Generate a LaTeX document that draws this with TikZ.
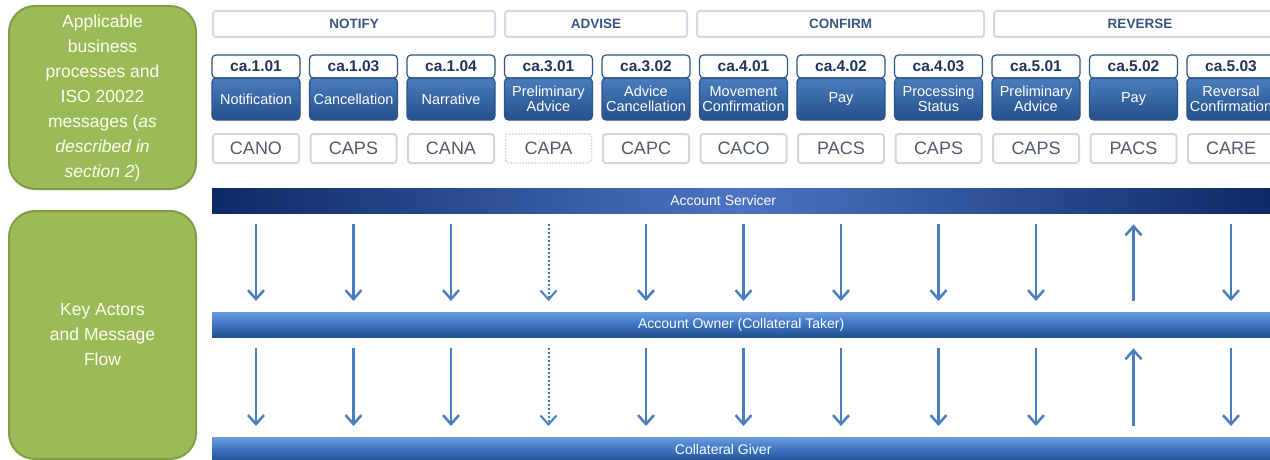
\documentclass[tikz,border=0pt]{standalone}
\usepackage{fontspec}
\setmainfont{Liberation Sans}
\usepackage{xcolor}
\usepackage{tikz}
\usetikzlibrary{positioning,arrows.meta}
\definecolor{leaf}{HTML}{9BBB59}
\definecolor{leafdark}{HTML}{7F9E45}
\definecolor{framegray}{HTML}{D3DAE4}
\definecolor{phasetext}{HTML}{3A5580}
\definecolor{navy}{HTML}{1F3560}
\definecolor{msgblue}{HTML}{4A7CBD}
\definecolor{msgdark}{HTML}{24508C}
\definecolor{msgline}{HTML}{2C5485}
\definecolor{isotext}{HTML}{505C6C}
\definecolor{isoline}{HTML}{D2D6DC}
\definecolor{flowblue}{HTML}{4A7EC2}
\definecolor{barnavy}{HTML}{0C2A66}
\definecolor{barmid}{HTML}{4C74C2}
\definecolor{bartop}{HTML}{6A9BE0}
\definecolor{barblue}{HTML}{3A72C0}
\definecolor{barlow}{HTML}{22508F}

\begin{document}
\begin{tikzpicture}[x=1pt, y=-1pt, node distance=9.5pt,
        area/.style={draw=leafdark, line width=2pt, fill=leaf, rounded corners=26pt, text=white!94!yellow, align=center, inner sep=0pt, minimum width=187pt, anchor=north west, font=\fontsize{17.5}{25}\selectfont},
        phase/.style={draw=framegray, line width=2pt, fill=white, rounded corners=3pt, minimum height=26pt, inner sep=0pt, anchor=north west, text=phasetext, font=\fontsize{13.5}{15}\selectfont\bfseries},
        code/.style={draw=msgline, line width=1.2pt, fill=white, rounded corners=4pt, minimum width=88pt, minimum height=23pt, inner sep=0pt, outer sep=0pt, text=navy, font=\fontsize{15.5}{17}\selectfont\bfseries},
        msg/.style={draw=msgline, line width=1.2pt, top color=msgblue, bottom color=msgdark, rounded corners=4pt, minimum width=88pt, minimum height=42pt, inner sep=0pt, outer sep=0pt, align=center, text=white, font=\fontsize{14.5}{15}\selectfont},
        iso/.style={draw=isoline, line width=2pt, fill=white, rounded corners=3pt, minimum width=86pt, minimum height=29pt, inner sep=0pt, text=isotext, font=\fontsize{18}{20}\selectfont},
        bar/.style={minimum width=1058pt, minimum height=25pt, inner sep=0pt, anchor=north west},
        bartext/.style={text=white, font=\fontsize{14}{16}\selectfont},
        flow/.style={draw=flowblue, line width=2.5pt, -{Straight Barb[length=9pt,width=16pt]}, shorten <=11pt, shorten >=11pt}
    ]
        \useasboundingbox (0,0) rectangle (1270,460);
        \clip (0,0) rectangle (1270,460);

        % left hand captions
        \node [area, minimum height=183pt] (apply) at (8,5) {Applicable\\ business\\ processes and\\ ISO 20022\\ messages (\textit{as}\\ \textit{described in}\\ \textit{section 2})};
        \node [area, minimum height=248pt] (actors) at (8,210) {Key Actors\\ and Message\\ Flow};

        % phases
        \node [phase, minimum width=282pt] (notify) at (212,10) {NOTIFY};
        \node [phase, minimum width=182pt] (advise) at (504,10) {ADVISE};
        \node [phase, minimum width=287pt] (confirm) at (696,10) {CONFIRM};
        \node [phase, minimum width=292pt] (reverse) at (993,10) {REVERSE};

        % message codes
        \node [code, anchor=north west] (c1) at (212,55) {ca.1.01};
        \node [code, right=of c1] (c2) {ca.1.03};
        \node [code, right=of c2] (c3) {ca.1.04};
        \node [code, right=of c3] (c4) {ca.3.01};
        \node [code, right=of c4] (c5) {ca.3.02};
        \node [code, right=of c5] (c6) {ca.4.01};
        \node [code, right=of c6] (c7) {ca.4.02};
        \node [code, right=of c7] (c8) {ca.4.03};
        \node [code, right=of c8] (c9) {ca.5.01};
        \node [code, right=of c9] (c10) {ca.5.02};
        \node [code, right=of c10] (c11) {ca.5.03};

        % message names
        \node [msg, below=0pt of c1] (m1) {Notification};
        \node [msg, below=0pt of c2] (m2) {Cancellation};
        \node [msg, below=0pt of c3] (m3) {Narrative};
        \node [msg, below=0pt of c4] (m4) {Preliminary\\ Advice};
        \node [msg, below=0pt of c5] (m5) {Advice\\ Cancellation};
        \node [msg, below=0pt of c6] (m6) {Movement\\ Confirmation};
        \node [msg, below=0pt of c7] (m7) {Pay};
        \node [msg, below=0pt of c8] (m8) {Processing\\ Status};
        \node [msg, below=0pt of c9] (m9) {Preliminary\\ Advice};
        \node [msg, below=0pt of c10] (m10) {Pay};
        \node [msg, below=0pt of c11] (m11) {Reversal\\ Confirmation};

        % ISO 20022 messages
        \node [iso, below=13pt of m1] (i1) {CANO};
        \node [iso, below=13pt of m2] (i2) {CAPS};
        \node [iso, below=13pt of m3] (i3) {CANA};
        \node [iso, below=13pt of m4, dash pattern=on 1.5pt off 1.5pt, line width=1.5pt] (i4) {CAPA};
        \node [iso, below=13pt of m5] (i5) {CAPC};
        \node [iso, below=13pt of m6] (i6) {CACO};
        \node [iso, below=13pt of m7] (i7) {PACS};
        \node [iso, below=13pt of m8] (i8) {CAPS};
        \node [iso, below=13pt of m9] (i9) {CAPS};
        \node [iso, below=13pt of m10] (i10) {PACS};
        \node [iso, below=13pt of m11] (i11) {CARE};

        % actors
        \node [bar, left color=barnavy, right color=barnavy, middle color=barmid, label={[bartext, xshift=-18pt]center:Account Servicer}] (serv) at (212,188) {};
        \node [bar, top color=bartop, bottom color=barlow, middle color=barblue, bartext] (owner) at (212,312) {Account Owner (Collateral Taker)};
        \node [bar, top color=bartop, bottom color=barlow, middle color=barblue, label={[bartext, xshift=-18pt]center:Collateral Giver}] (giver) at (212,437) {};

        % servicer to owner
        \draw [flow] (i1 |- serv.south) -- (i1 |- owner.north);
        \draw [flow] (i2 |- serv.south) -- (i2 |- owner.north);
        \draw [flow] (i3 |- serv.south) -- (i3 |- owner.north);
        \draw [flow, line width=2pt, dash pattern=on 2pt off 2pt] (i4 |- serv.south) -- (i4 |- owner.north);
        \draw [flow] (i5 |- serv.south) -- (i5 |- owner.north);
        \draw [flow] (i6 |- serv.south) -- (i6 |- owner.north);
        \draw [flow] (i7 |- serv.south) -- (i7 |- owner.north);
        \draw [flow] (i8 |- serv.south) -- (i8 |- owner.north);
        \draw [flow] (i9 |- serv.south) -- (i9 |- owner.north);
        \draw [flow] (i10 |- owner.north) -- (i10 |- serv.south);
        \draw [flow] (i11 |- serv.south) -- (i11 |- owner.north);

        % owner to giver
        \draw [flow] (i1 |- owner.south) -- (i1 |- giver.north);
        \draw [flow] (i2 |- owner.south) -- (i2 |- giver.north);
        \draw [flow] (i3 |- owner.south) -- (i3 |- giver.north);
        \draw [flow, line width=2pt, dash pattern=on 2pt off 2pt] (i4 |- owner.south) -- (i4 |- giver.north);
        \draw [flow] (i5 |- owner.south) -- (i5 |- giver.north);
        \draw [flow] (i6 |- owner.south) -- (i6 |- giver.north);
        \draw [flow] (i7 |- owner.south) -- (i7 |- giver.north);
        \draw [flow] (i8 |- owner.south) -- (i8 |- giver.north);
        \draw [flow] (i9 |- owner.south) -- (i9 |- giver.north);
        \draw [flow] (i10 |- giver.north) -- (i10 |- owner.south);
        \draw [flow] (i11 |- owner.south) -- (i11 |- giver.north);
    \end{tikzpicture}
\end{document}
